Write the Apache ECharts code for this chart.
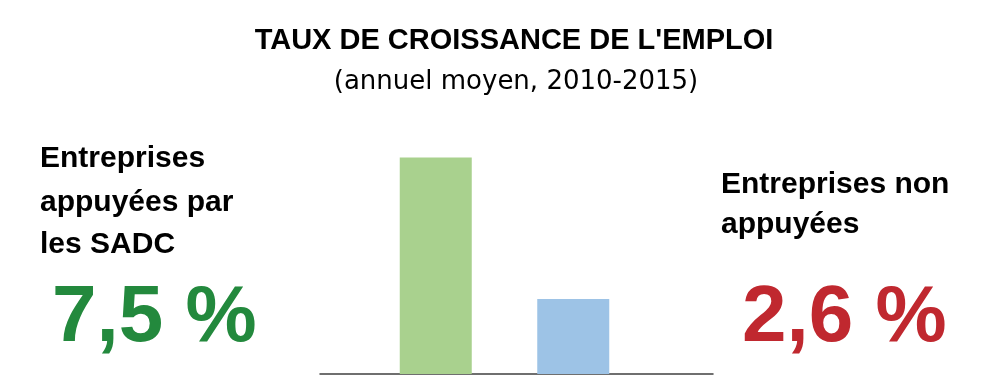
<!DOCTYPE html>
<html>
<head>
<meta charset="utf-8">
<script src="https://cdn.jsdelivr.net/npm/echarts@6/dist/echarts.min.js"></script>
<style>
  html, body { margin: 0; padding: 0; background: #ffffff; }
  #chart { width: 1000px; height: 388px; }
</style>
</head>
<body>
<div id="chart"></div>
<script>
const categories = ['Entreprises appuyées par les SADC', 'Entreprises non appuyées'];
const values = [7.5, 2.6];
const barColors = ['#a9d18e', '#9dc3e6'];
const valueColors = ['#23893d', '#c0282f'];
const titleText = "TAUX DE CROISSANCE DE L'EMPLOI";
const subtitleText = '(annuel moyen, 2010-2015)';
const leftLabelLines = ['Entreprises', 'appuyées par', 'les SADC'];
const rightLabelLines = ['Entreprises non', 'appuyées'];

function fmt(v) { return v.toFixed(1).replace('.', ',') + ' %'; }

const chart = echarts.init(document.getElementById('chart'), null, { renderer: 'canvas' });

const K = 0.33; // baseline -> middle offset factor
function txt(x, baseline, text, size, weight, family, color, align) {
  return { type: 'text', x: x, y: baseline - K * size, style: {
    text: text, align: align || 'left', verticalAlign: 'middle',
    fontFamily: family, fontWeight: weight, fontSize: size, fill: color } };
}
const graphics = [
  txt(514, 51, titleText, 29, 'bold', 'Liberation Sans', '#000000', 'center'),
  txt(516, 91, subtitleText, 26, 'normal', 'DejaVu Sans', '#000000', 'center')
];
const leftBaselines = [169, 213, 255];
leftLabelLines.forEach((t, i) => graphics.push(txt(40, leftBaselines[i], t, 30, 'bold', 'Liberation Sans', '#000000')));
const rightBaselines = [195, 235];
rightLabelLines.forEach((t, i) => graphics.push(txt(721, rightBaselines[i], t, 30, 'bold', 'Liberation Sans', '#000000')));
graphics.push(txt(52, 345, fmt(values[0]), 80, 'bold', 'Liberation Sans', valueColors[0]));
graphics.push(txt(742, 345, fmt(values[1]), 80, 'bold', 'Liberation Sans', valueColors[1]));

chart.setOption({
  animation: false,
  backgroundColor: '#ffffff',
  grid: [
    { left: 367, right: 358, top: 143, bottom: 14 },
    { left: 320, right: 287, top: 143, bottom: 14 }
  ],
  xAxis: [
    { type: 'category', gridIndex: 0, data: categories, axisLine: { show: false }, axisTick: { show: false }, axisLabel: { show: false } },
    { type: 'category', gridIndex: 1, data: [''], axisLine: { show: true, lineStyle: { color: '#404040', width: 1.5 } }, axisTick: { show: false }, axisLabel: { show: false } }
  ],
  yAxis: [
    { type: 'value', gridIndex: 0, min: 0, max: 8, show: false },
    { type: 'value', gridIndex: 1, min: 0, max: 8, show: false }
  ],
  series: [{
    type: 'bar',
    xAxisIndex: 0,
    yAxisIndex: 0,
    barWidth: 72,
    data: values.map((v, i) => ({ value: v, itemStyle: { color: barColors[i] } }))
  }],
  graphic: graphics
});
</script>
</body>
</html>
